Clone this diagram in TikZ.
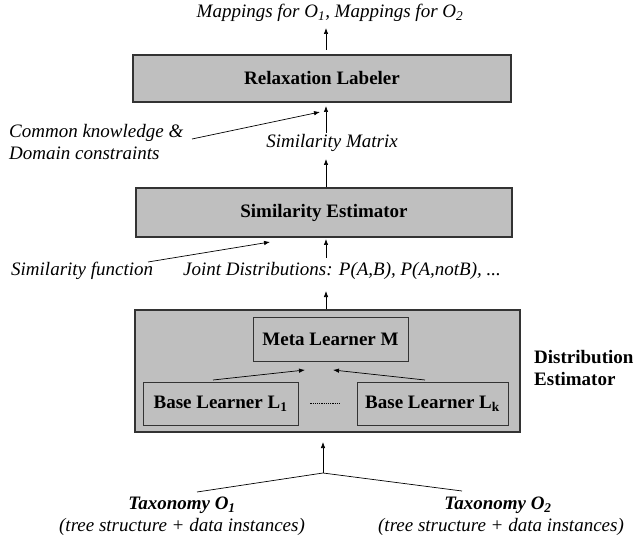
\documentclass[tikz,border=0pt]{standalone}
\usepackage{fontspec}
\setmainfont{Liberation Serif}
\usetikzlibrary{arrows.meta}

\begin{document}
\begin{tikzpicture}[x=1pt, y=-1pt, >={Latex[length=6pt,width=4.5pt]},
    every node/.style={font=\fontsize{19}{22}\selectfont},
    bigbox/.style={draw=black!80, line width=1.2pt, fill=black!25, inner sep=0pt},
    smallbox/.style={draw=black!80, line width=0.9pt, inner sep=0pt, font=\fontsize{19}{22}\selectfont\bfseries},
    plaintext/.style={font=\fontsize{19}{22}\selectfont\itshape},
    flow/.style={->, line width=0.7pt}]
                \useasboundingbox (0,0) rectangle (634,545);
                \node [bigbox, minimum width=378pt, minimum height=47pt, font=\fontsize{19}{22}\selectfont\bfseries] (relax) at (322,78.5) {Relaxation Labeler};
                \node [bigbox, minimum width=376pt, minimum height=49pt, font=\fontsize{19}{22}\selectfont\bfseries] (simest) at (324,212.5) {Similarity Estimator};
                \node [bigbox, minimum width=385pt, minimum height=122pt] (distest) at (327.5,371) {};
                \node [smallbox, minimum width=155pt, minimum height=44pt] (meta) at (330.5,339) {Meta Learner M};
                \node [smallbox, minimum width=155pt, minimum height=43pt] (base1) at (220.5,403.5) {Base Learner L\textsubscript{1}};
                \node [smallbox, minimum width=151pt, minimum height=43pt] (basek) at (432.5,403.5) {Base Learner L\textsubscript{k}};
                \node [font=\fontsize{19}{22}\selectfont\bfseries, align=left, anchor=west, inner sep=0pt] (distlabel) at (534,368) {Distribution\\Estimator};
                \node [plaintext] (mapout) at (330,13) {Mappings for O\textsubscript{1}, Mappings for O\textsubscript{2}};
                \node [plaintext] (simmat) at (332,143) {Similarity Matrix};
                \node [plaintext, align=left, anchor=west, inner sep=0pt] (common) at (9,142) {Common knowledge \&\\Domain constraints};
                \node [plaintext, anchor=west, inner sep=0pt] (simfunc) at (11,271) {Similarity function};
                \node [plaintext, anchor=west, inner sep=0pt] (joint) at (183,271) {Joint Distributions: P(A,B), P(A,notB), ...};
                \node [plaintext, font=\fontsize{19}{22}\selectfont\bfseries\itshape] (tax1) at (182,505) {Taxonomy O\textsubscript{1}};
                \node [plaintext] (sub1) at (182,527) {(tree structure + data instances)};
                \node [plaintext, font=\fontsize{19}{22}\selectfont\bfseries\itshape] (tax2) at (498,505) {Taxonomy O\textsubscript{2}};
                \node [plaintext] (sub2) at (501,527) {(tree structure + data instances)};
                \coordinate (join) at (323,473);
                \coordinate (tax1top) at (197,492);
                \coordinate (tax2top) at (462,491);
                \draw [flow] (326,50) -- (326,28);
                \draw [flow] (326,133) -- (326,106);
                \draw [flow] (192,139) -- (320,112);
                \draw [flow] (simest.north -| 326,0) -- (326,159);
                \draw [flow] (326,258) -- (326,239);
                \draw [flow] (148,262) -- (270,242);
                \draw [flow] (distest.north -| 326,0) -- (326,291);
                \draw [flow] (213,380) -- (305,370);
                \draw [flow] (425,380) -- (333,370);
                \draw [densely dotted, line width=1.2pt, shorten <=12pt, shorten >=17pt] (base1.east) -- (basek.west);
                \draw [line width=0.7pt] (tax1top) -- (join) -- (tax2top);
                \draw [flow] (join) -- (323,442);
\end{tikzpicture}
\end{document}
